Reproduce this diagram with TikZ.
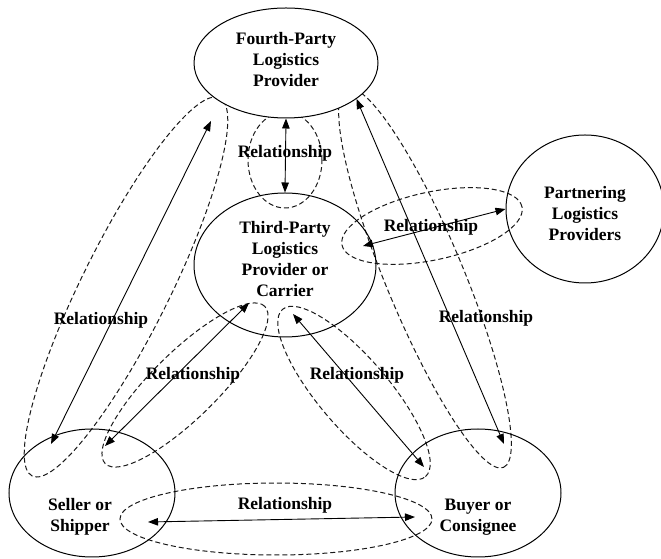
\documentclass[tikz,border=0pt]{standalone}
\usepackage{fontspec}
\setmainfont{Liberation Serif}
\usetikzlibrary{shapes.geometric,arrows.meta,backgrounds}

\tikzset{
  party/.style={ellipse,draw,line width=1pt,inner sep=0pt},
  partytext/.style={font=\bfseries\fontsize{17.5}{21}\selectfont,align=center},
  rel/.style={{Triangle[length=10pt,width=7.5pt]}-{Triangle[length=10pt,width=7.5pt]},line width=0.9pt},
  halo/.style={dash pattern=on 5pt off 3pt,line width=1pt,black!90},
  reltext/.style={font=\bfseries\fontsize{17.5}{21}\selectfont}
}

\begin{document}
\begin{tikzpicture}[x=1pt,y=1pt]
\useasboundingbox (0,0) rectangle (661,559);

% the five parties
\node[party,fill=white,minimum width=184pt,minimum height=110pt,
  label={[partytext,yshift=3pt]center:Fourth-Party\\Logistics\\Provider}] (fourth) at (286,496) {};
\node[party,minimum width=182pt,minimum height=144pt,
  label={[partytext,yshift=6pt]center:Third-Party\\Logistics\\Provider or\\Carrier}] (third) at (285,294) {};
\node[party,minimum width=158pt,minimum height=148pt,
  label={[partytext,yshift=-5pt]center:Partnering\\Logistics\\Providers}] (partner) at (585,350) {};
\node[party,minimum width=166pt,minimum height=128pt,
  label={[partytext,xshift=-12pt,yshift=-24pt]center:Seller or\\Shipper}] (seller) at (92,66) {};
\node[party,minimum width=166pt,minimum height=128pt,
  label={[partytext,yshift=-24pt]center:Buyer or\\Consignee}] (buyer) at (478,66) {};

% dashed rings, kept behind the parties
\begin{scope}[on background layer]
\draw[halo] (285,399) ellipse (37 and 48);
\draw[halo,rotate around={63.6:(126,272)}] (126,272) ellipse (211 and 44);
\draw[halo,rotate around={-67.5:(425,281)}] (425,281) ellipse (205 and 39);
\draw[halo,rotate around={12:(432,333)}] (432,333) ellipse (92 and 34);
\draw[halo,rotate around={44.6:(185,174)}] (185,174) ellipse (112 and 33);
\draw[halo,rotate around={-49.5:(354,166)}] (354,166) ellipse (110 and 35);
\draw[halo] (276,40) ellipse (156 and 36);
\end{scope}

% arrow ends lying off the borders
\coordinate (fs) at (211,438);
\coordinate (sf) at (51,115);
\coordinate (bf) at (504,115);
\coordinate (tp) at (363,313);
\coordinate (ts) at (249,256);
\coordinate (st) at (105,113);
\coordinate (tb) at (293,245);
\coordinate (bt) at (424,92);
\coordinate (sb) at (148,37);
\coordinate (bs) at (415,42);

\draw[rel] (fourth.south) -- (third.north);
\draw[rel] (fs) -- (sf);
\draw[rel] (fourth.-27) -- (bf);
\draw[rel] (tp) -- (partner.west);
\draw[rel] (ts) -- (st);
\draw[rel] (tb) -- (bt);
\draw[rel] (sb) -- (bs);

\node[reltext] (r1) at (285,406) {Relationship};
\node[reltext] (r2) at (101,239) {Relationship};
\node[reltext] (r3) at (193,184) {Relationship};
\node[reltext] (r4) at (357,184) {Relationship};
\node[reltext] (r5) at (486,241) {Relationship};
\node[reltext] (r6) at (431,332) {Relationship};
\node[reltext] (r7) at (285,54) {Relationship};
\end{tikzpicture}
\end{document}
